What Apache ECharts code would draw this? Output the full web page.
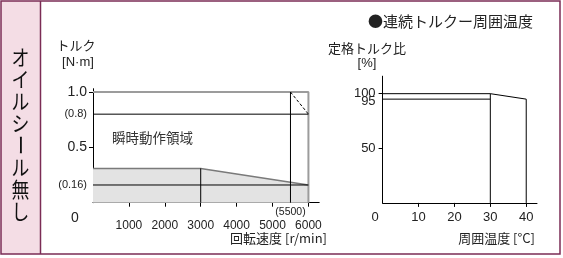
<!DOCTYPE html>
<html><head><meta charset="utf-8">
<script src="https://cdn.jsdelivr.net/npm/echarts@6/dist/echarts.min.js"></script>
<style>html,body{margin:0;padding:0;background:#fff}#c{width:563px;height:258px}</style>
</head><body><div id="c"></div>
<script>
// ---- data ----
const speedTicks = [1000, 2000, 3000, 4000, 5000, 6000];
const torqueLabelValues = [0.16, 0.5, 0.8, 1.0];
const torqueTickValues = [0.5, 1.0];
const instBox = [[0, 1.0], [6000, 1.0], [6000, 0]];
const contCurve = [[0, 0.31], [3000, 0.31], [6000, 0.16]];
const ratedLine = [[0, 0.16], [6000, 0.16]];
const line08 = [[0, 0.8], [6000, 0.8]];
const v3000 = [[3000, 0], [3000, 0.31]];
const v5500 = [[5500, 0], [5500, 1.0]];
const dashSeg = [[5500, 1.0], [6000, 0.8]];
const speedMark = 5500;
const tempTicks = [10, 20, 30, 40];
const ratioLabelValues = [50, 95, 100];
const ratioTickValues = [50, 100];
const derate = [[0, 100], [30, 100], [40, 95]];
const line95 = [[0, 95], [30, 95]];
const v30 = [[30, 0], [30, 100]];
const v40 = [[40, 0], [40, 95]];
const sideTitle = 'オイルシール無し';

const NUM = '"Liberation Sans", Arial, sans-serif';
const JP = '"Noto Sans CJK JP", sans-serif';
const TXT = '#222';

const chart = echarts.init(document.getElementById('c'), null, {renderer: 'canvas'});

function lineS(data, xi, color, width, type, z) {
  return {type: 'line', xAxisIndex: xi, yAxisIndex: xi, data: data, symbol: 'none',
    lineStyle: {color: color, width: width, type: type || 'solid'}, z: z || 3, silent: true, animation: false};
}

function torqueFmt(v) {
  if (Math.abs(v - 0.16) < 1e-6) return '{s|(0.16)}';
  if (Math.abs(v - 0.8) < 1e-6) return '{s|(0.8)}';
  if (Math.abs(v - 1) < 1e-6) return '1.0';
  return String(v);
}

const sideChars = [];
Array.from(sideTitle).forEach((ch, i) => {
  const el = {type: 'text', x: 20.5, y: 57 + 22 * i, scaleX: 0.85,
    style: {text: ch, font: '21px ' + JP, fill: '#111', align: 'center', verticalAlign: 'middle'}, z: 10};
  if (ch === 'ー') { el.rotation = -Math.PI / 2; el.scaleX = 1; el.scaleY = 1; }
  sideChars.push(el);
});

const option = {
  animation: false,
  grid: [
    {left: 93, top: 88.7, width: 226.2, height: 114},
    {left: 382.6, top: 76.2, width: 154.4, height: 126.7}
  ],
  xAxis: [
    {type: 'value', gridIndex: 0, min: 0, max: 6300,
      axisLine: {lineStyle: {color: '#000', width: 1}},
      axisTick: {show: true, length: 4, lineStyle: {color: '#000'}, customValues: speedTicks},
      axisLabel: {customValues: speedTicks, margin: 17, fontSize: 12, fontFamily: NUM, color: TXT,
        formatter: v => String(v), showMinLabel: true, showMaxLabel: true},
      splitLine: {show: false}},
    {type: 'value', gridIndex: 1, min: 0, max: 43,
      axisLine: {lineStyle: {color: '#000', width: 1}},
      axisTick: {show: true, length: 4, lineStyle: {color: '#000'}, customValues: tempTicks},
      axisLabel: {customValues: tempTicks, margin: 8, fontSize: 13, fontFamily: NUM, color: TXT,
        formatter: v => String(v), showMinLabel: true, showMaxLabel: true},
      splitLine: {show: false}}
  ],
  yAxis: [
    {type: 'value', gridIndex: 0, min: 0, max: 1.03,
      axisLine: {show: true, lineStyle: {color: '#000', width: 1}},
      axisTick: {show: true, length: 4, lineStyle: {color: '#000'}, customValues: torqueTickValues},
      axisLabel: {customValues: torqueLabelValues, margin: 6, fontSize: 14, fontFamily: NUM, color: TXT,
        formatter: torqueFmt, showMinLabel: true, showMaxLabel: true,
        rich: {s: {fontSize: 11, fontFamily: NUM, color: TXT}}},
      splitLine: {show: false}},
    {type: 'value', gridIndex: 1, min: 0, max: 116,
      axisLine: {show: true, lineStyle: {color: '#000', width: 1}},
      axisTick: {show: true, length: 4, lineStyle: {color: '#000'}, customValues: ratioTickValues},
      axisLabel: {customValues: ratioTickValues, margin: 7, fontSize: 13, fontFamily: NUM, color: TXT,
        showMinLabel: true, showMaxLabel: true, formatter: v => String(v)},
      splitLine: {show: false}}
  ],
  series: [
    Object.assign(lineS(contCurve, 0, '#7a7a7a', 1.5, 'solid', 2), {areaStyle: {color: '#e3e3e3', opacity: 1}}),
    lineS(instBox, 0, '#9c9c9c', 2, 'solid', 2),
    lineS(ratedLine, 0, '#000', 1),
    lineS(line08, 0, '#000', 1),
    lineS(v3000, 0, '#000', 1),
    lineS(v5500, 0, '#000', 1),
    lineS(dashSeg, 0, '#000', 1, [3, 2]),
    lineS(derate, 1, '#000', 1),
    lineS(line95, 1, '#000', 1),
    lineS(v30, 1, '#000', 1),
    lineS(v40, 1, '#000', 1)
  ]
};
chart.setOption(option);

const p5500 = chart.convertToPixel({gridIndex: 0}, [speedMark, 0]);
const o1 = chart.convertToPixel({gridIndex: 0}, [0, 0]);
const o2 = chart.convertToPixel({gridIndex: 1}, [0, 0]);
const extraRatio = ratioLabelValues.filter(v => ratioTickValues.indexOf(v) < 0).map(v => {
  const p = chart.convertToPixel({gridIndex: 1}, [0, v]);
  return {type: 'text', x: p[0] - 7, y: p[1] + 2.5, style: {text: String(v), font: '13px ' + NUM, fill: TXT, align: 'right', verticalAlign: 'middle'}};
});

chart.setOption({
  graphic: [
    {type: 'rect', shape: {x: 1, y: 1, width: 40, height: 253}, style: {fill: '#f4dde5', stroke: 'none'}, z: 0},
    {type: 'line', shape: {x1: 40.5, y1: 1, x2: 40.5, y2: 254}, style: {stroke: '#7b2c55', lineWidth: 1.5}, z: 5},
    {type: 'rect', shape: {x: 1, y: 1, width: 559, height: 253}, style: {fill: 'none', stroke: '#7b2c55', lineWidth: 1.5}, z: 5},
    ...sideChars,
    ...extraRatio,
    {type: 'text', x: 76, y: 45, style: {text: 'トルク', font: '13px ' + JP, fill: TXT, align: 'center', verticalAlign: 'middle'}},
    {type: 'text', x: 78, y: 62, style: {text: '[N·m]', font: '13px ' + NUM, fill: TXT, align: 'center', verticalAlign: 'middle'}},
    {type: 'text', x: o1[0] - 18, y: o1[1] + 15, style: {text: '0', font: '14px ' + NUM, fill: TXT, align: 'center', verticalAlign: 'middle'}},
    {type: 'text', x: p5500[0], y: p5500[1] + 9, style: {text: '(' + speedMark + ')', font: '10.5px ' + NUM, fill: TXT, align: 'center', verticalAlign: 'middle'}},
    {type: 'text', x: 327, y: 238, style: {text: '回転速度 [r/min]', font: '13px ' + JP, fill: TXT, align: 'right', verticalAlign: 'middle'}},
    {type: 'text', x: 112, y: 137.5, style: {text: '瞬時動作領域', font: '13.5px ' + JP, fill: '#333', align: 'left', verticalAlign: 'middle'}},
    {type: 'text', x: 112, y: 181, style: {text: '連続動作領域', font: '13.5px ' + JP, fill: '#333', align: 'left', verticalAlign: 'middle'}},
    {type: 'text', x: 533, y: 21, style: {text: '●連続トルクー周囲温度', font: '15px ' + JP, fill: TXT, align: 'right', verticalAlign: 'middle'}},
    {type: 'text', x: 367, y: 48, style: {text: '定格トルク比', font: '13px ' + JP, fill: TXT, align: 'center', verticalAlign: 'middle'}},
    {type: 'text', x: 367, y: 63, style: {text: '[%]', font: '13px ' + NUM, fill: TXT, align: 'center', verticalAlign: 'middle'}},
    {type: 'text', x: o2[0] - 7.5, y: o2[1] + 14.5, style: {text: '0', font: '13px ' + NUM, fill: TXT, align: 'center', verticalAlign: 'middle'}},
    {type: 'text', x: 535, y: 238, style: {text: '周囲温度 [°C]', font: '13px ' + JP, fill: TXT, align: 'right', verticalAlign: 'middle'}}
  ]
});
</script></body></html>
